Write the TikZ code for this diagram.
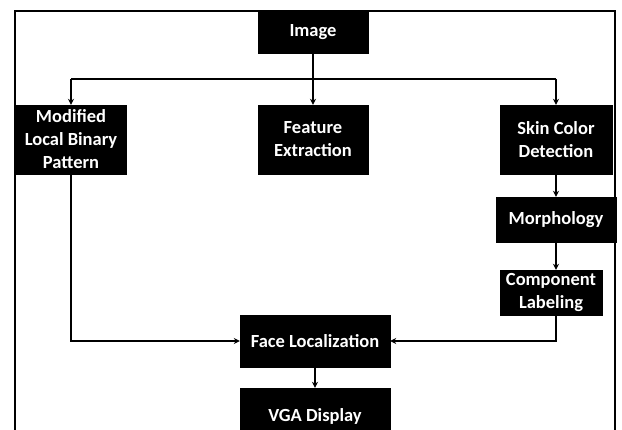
\documentclass[tikz,border=0pt]{standalone}
\usepackage{fontspec}
\setmainfont{Carlito}
\usetikzlibrary{arrows.meta}
\tikzset{
  blk/.style={fill=black, draw=black, text=white, font=\bfseries\fontsize{18.5}{23}\selectfont, align=center, inner sep=0pt},
  conn/.style={draw=black, line width=1.4pt, -{Stealth[length=6pt,width=6pt]}},
  plain/.style={draw=black, line width=1.4pt}
}
\begin{document}
\begin{tikzpicture}[x=1pt,y=-1pt]
\useasboundingbox (0,0) rectangle (622,430);
\clip (0,0) rectangle (622,430);
\fill[white] (0,0) rectangle (622,430);
\draw[line width=1.5pt] (15,11) rectangle (615,445);

\node[blk, minimum width=110pt, minimum height=42pt] (img) at (313,32) {Image};
\node[blk, minimum width=110pt, minimum height=69pt] (lbp) at (71,139.5) {Modified\\Local Binary\\Pattern};
\node[blk, minimum width=110pt, minimum height=69pt] (feat) at (313,139.5) {Feature\\Extraction};
\node[blk, minimum width=112pt, minimum height=69pt] (skin) at (556,139.5) {Skin Color\\Detection};
\node[blk, minimum width=120pt, minimum height=45pt] (morph) at (556,219.5) {Morphology};
\node[blk, minimum width=102pt, minimum height=45pt] (comp) at (551,292.5) {Component\\Labeling};
\node[blk, minimum width=150pt, minimum height=52pt] (face) at (315,341) {Face Localization};
\node[blk, minimum width=150pt, minimum height=56pt] (vga) at (315,416) {VGA Display};

\coordinate (hl) at (71,79);
\coordinate (hr) at (556,79);

\draw[conn] (img.south) -- (feat.north);
\draw[plain] (hl) -- (hr);
\draw[conn] (hl) -- (lbp.north);
\draw[conn] (hr) -- (skin.north);
\draw[conn] (skin.south) -- (morph.north);
\draw[conn] (morph.south) -- (morph.south |- comp.north);
\draw[conn] (lbp.south) |- (face.west);
\draw[conn] (morph.south |- comp.south) |- (face.east);
\draw[conn] (face.south) -- (vga.north);
\end{tikzpicture}
\end{document}
